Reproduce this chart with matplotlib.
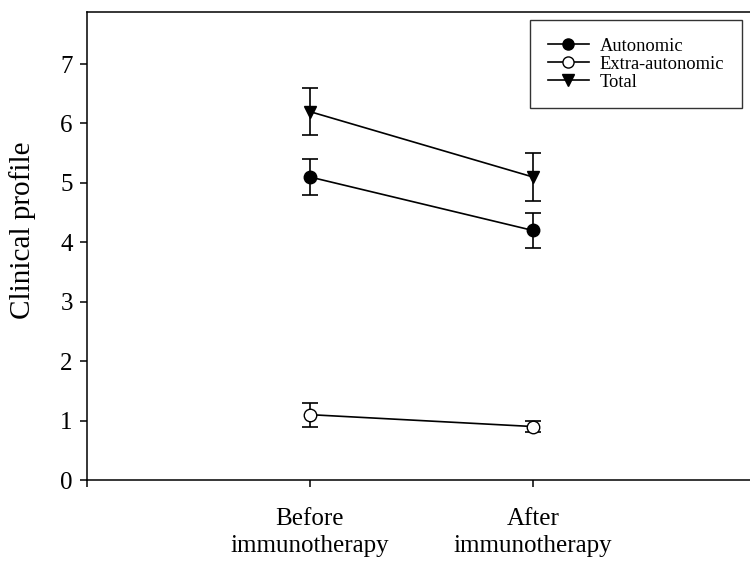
import numpy as np
import matplotlib.pyplot as plt
from matplotlib.lines import Line2D

plt.rcParams['font.family'] = ['Liberation Serif', 'DejaVu Serif']

# data
groups = ['Before\nimmunotherapy', 'After\nimmunotherapy']
autonomic = [5.1, 4.2]
autonomic_err = [0.3, 0.3]
extra_autonomic = [1.1, 0.9]
extra_autonomic_err = [0.2, 0.1]
total = [6.2, 5.1]
total_err = [0.4, 0.4]

x = np.arange(1, len(groups) + 1)

fig = plt.figure(figsize=(7.5, 5.63), dpi=100)
ax = fig.add_axes([0.1156, 0.1474, 0.892, 0.8318])

common = dict(color='black', lw=1.2, ms=9, capsize=5.5, capthick=1.2, elinewidth=1.2)
ax.errorbar(x, autonomic, yerr=autonomic_err, marker='o', mfc='black', **common)
ax.errorbar(x, extra_autonomic, yerr=extra_autonomic_err, marker='o', mfc='white', **common)
ax.errorbar(x, total, yerr=total_err, marker='v', mfc='black', **common)

ax.set_xlim(0, 3)
ax.set_ylim(0, 7.88)
ax.set_yticks(range(0, 8))
ax.set_xticks([0] + list(x))
ax.set_xticklabels([''] + groups, linespacing=1.3)

ax.tick_params(axis='both', direction='out', length=5, width=1.1, labelsize=18)
ax.tick_params(axis='x', pad=15)
ax.tick_params(axis='y', pad=5)
for s in ax.spines.values():
    s.set_linewidth(1.1)

ax.set_ylabel('Clinical profile', fontsize=21)
ax.yaxis.set_label_coords(-0.076, 0.534)

# legend shows only line + marker, no error bars
handles = [
    Line2D([], [], color='black', lw=1.2, marker='o', mfc='black', ms=8),
    Line2D([], [], color='black', lw=1.2, marker='o', mfc='white', ms=8),
    Line2D([], [], color='black', lw=1.2, marker='v', mfc='black', ms=8),
]
labels = ['Autonomic', 'Extra-autonomic', 'Total']
leg = ax.legend(handles, labels, loc='upper right', bbox_to_anchor=(0.989, 0.964),
                bbox_transform=fig.transFigure, borderaxespad=0, fontsize=13.3, frameon=True,
                fancybox=False, edgecolor='black', labelspacing=0.05, handlelength=2.2,
                handletextpad=0.6, borderpad=0.95)
leg.get_frame().set_linewidth(1.0)

fig.savefig('out.png', dpi=100)
